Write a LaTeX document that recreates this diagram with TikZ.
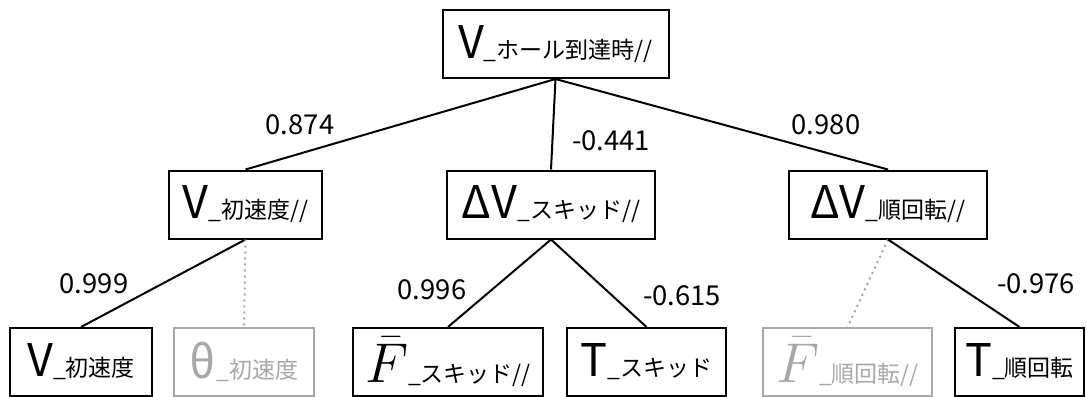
\documentclass[tikz,border=0pt]{standalone}
\usepackage{amsmath}
\usepackage{fontspec}
\setmainfont{Noto Sans CJK JP}
\definecolor{faded}{RGB}{168,168,168}
% big symbol with a small Japanese suffix
\newcommand{\varlabel}[2]{{\fontsize{22.5}{24}\selectfont #1}{\fontsize{11.5}{13}\selectfont\_#2}}
\newcommand{\meanF}{\scalebox{1.35}{$\bar{F}$}}

\begin{document}
\begin{tikzpicture}[x=0.5pt, y=-0.5pt,
  box/.style={draw, line width=1pt, inner sep=0pt, minimum height=34pt},
  weak/.style={box, draw=faded, text=faded},
  link/.style={line width=1pt},
  cut/.style={line width=1pt, faded, dotted},
  coef/.style={font=\fontsize{13.7}{15}\selectfont}]
\useasboundingbox (0,0) rectangle (1086,396);
\clip (0,0) rectangle (1086,396);
% Tree:
\node (hole) [box, minimum width=113pt] at (555.5,44) {\varlabel{V}{ホール到達時//}};
\node (vInit) [box, minimum width=76.5pt] at (245.5,204.5) {\varlabel{V}{初速度//}};
\node (dvSkid) [box, minimum width=104pt] at (551,204.5) {\varlabel{ΔV}{スキッド//}};
\node (dvRoll) [box, minimum width=99pt] at (888,204.5) {\varlabel{ΔV}{順回転//}};
\node (v0) [box, minimum width=71pt] at (81,362) {\varlabel{V}{初速度}};
\node (th0) [weak, minimum width=70pt] at (244,362) {\varlabel{θ}{初速度}};
\node (fSkid) [box, minimum width=95pt] at (448,362) {\varlabel{\meanF}{スキッド//}};
\node (tSkid) [box, minimum width=79.5pt] at (646.5,362) {\varlabel{T}{スキッド}};
\node (fRoll) [weak, minimum width=84.5pt] at (847.5,362) {\varlabel{\meanF}{順回転//}};
\node (tRoll) [box, minimum width=64.5pt] at (1019.5,362) {\varlabel{T}{順回転}};
% Links:
\draw[link] (hole.south) -- (vInit.north);
\draw[link] (hole.south) -- (dvSkid.north);
\draw[link] (hole.south) -- (dvRoll.north);
\draw[link] (vInit.south) -- (v0.north);
\draw[cut] (vInit.south) -- (th0.north);
\draw[link] (dvSkid.south) -- (fSkid.north);
\draw[link] (dvSkid.south) -- (tSkid.north);
\draw[cut] (dvRoll.south) -- (fRoll.north);
\draw[link] (dvRoll.south) -- (tRoll.north);
% Coefficients:
\node (c1) [coef] at (300,125) {0.874};
\node (c2) [coef] at (611,141) {-0.441};
\node (c3) [coef] at (826,125) {0.980};
\node (c4) [coef] at (94,284) {0.999};
\node (c5) [coef] at (432,290) {0.996};
\node (c6) [coef] at (682,296) {-0.615};
\node (c7) [coef] at (1036,284) {-0.976};
\end{tikzpicture}
\end{document}
